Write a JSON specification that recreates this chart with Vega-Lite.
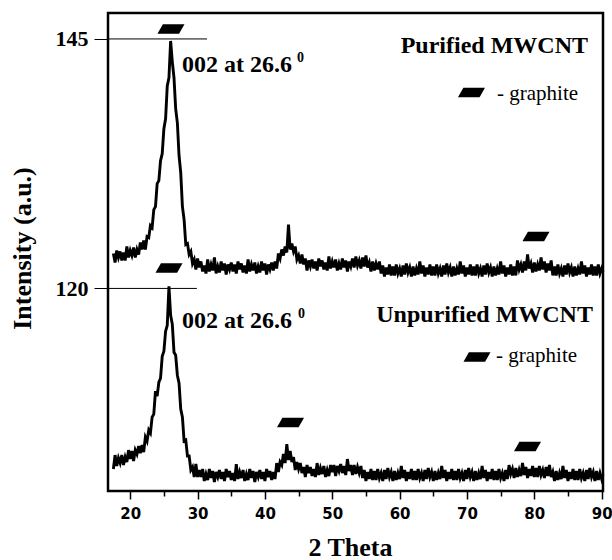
{
"$schema": "https://vega.github.io/schema/vega-lite/v6.json",
"width": 495, "height": 478,
"autosize": {"type": "none"},
"padding": {"left": 108, "top": 13, "right": 9, "bottom": 69},
"background": "white",
"config": {"view": {"stroke": "black", "strokeWidth": 2.5}, "axis": {"grid": false}},
"datasets": {
"xrd": [
{"t":17.5,"p":123.5,"u":101.9},{"t":17.75,"p":122.6,"u":103.3},{"t":18,"p":123.8,"u":102.2},{"t":18.25,"p":123.1,"u":103.0},{"t":18.5,"p":123.7,"u":102.5},{"t":18.75,"p":122.8,"u":103.3},{"t":19,"p":123.6,"u":102.3},{"t":19.25,"p":122.8,"u":103.1},{"t":19.5,"p":124.2,"u":102.6},{"t":19.75,"p":123.1,"u":103.8},
{"t":20,"p":123.8,"u":102.9},{"t":20.25,"p":123.3,"u":103.7},{"t":20.5,"p":124.1,"u":102.7},{"t":20.75,"p":123.1,"u":103.8},{"t":21,"p":123.9,"u":103.4},{"t":21.25,"p":123.4,"u":104.2},{"t":21.5,"p":124.6,"u":103.5},{"t":21.75,"p":123.9,"u":104.3},{"t":22,"p":124.8,"u":103.6},{"t":22.25,"p":123.9,"u":105.1},
{"t":22.5,"p":125.2,"u":104.7},{"t":22.75,"p":125.1,"u":105.8},{"t":23,"p":126.3,"u":105.5},{"t":23.25,"p":126.1,"u":107.1},{"t":23.5,"p":127.9,"u":107.4},{"t":23.75,"p":128.2,"u":109.7},{"t":24,"p":130.5,"u":109.2},{"t":24.25,"p":130.8,"u":110.6},{"t":24.5,"p":132.8,"u":111.0},{"t":24.75,"p":133.5,"u":113.2},
{"t":25,"p":136.0,"u":113.7},{"t":25.25,"p":137.0,"u":115.7},{"t":25.5,"p":140.3,"u":116.3},{"t":25.75,"p":141.1,"u":120.2},{"t":26,"p":144.8,"u":117.3},{"t":26.25,"p":142.7,"u":116.4},{"t":26.5,"p":141.1,"u":113.6},{"t":26.75,"p":138.0,"u":113.3},{"t":27,"p":136.6,"u":111.3},{"t":27.25,"p":133.3,"u":110.5},
{"t":27.5,"p":131.6,"u":107.9},{"t":27.75,"p":128.2,"u":107.1},{"t":28,"p":126.9,"u":104.7},{"t":28.25,"p":124.4,"u":104.8},{"t":28.5,"p":124.5,"u":103.2},{"t":28.75,"p":123.4,"u":103.2},{"t":29,"p":123.7,"u":101.8},{"t":29.25,"p":122.5,"u":102.1},{"t":29.5,"p":122.9,"u":101.1},{"t":29.75,"p":121.9,"u":102.4},
{"t":30,"p":123.0,"u":101.1},{"t":30.25,"p":122.1,"u":101.8},{"t":30.5,"p":122.7,"u":101.1},{"t":30.75,"p":121.7,"u":101.9},{"t":31,"p":122.3,"u":100.7},{"t":31.25,"p":121.5,"u":101.4},{"t":31.5,"p":122.9,"u":100.8},{"t":31.75,"p":121.7,"u":101.9},{"t":32,"p":122.4,"u":101.0},{"t":32.25,"p":121.8,"u":101.7},
{"t":32.5,"p":123.1,"u":100.6},{"t":32.75,"p":121.5,"u":101.6},{"t":33,"p":122.2,"u":101.1},{"t":33.25,"p":121.6,"u":101.8},{"t":33.5,"p":122.7,"u":100.9},{"t":33.75,"p":121.8,"u":101.6},{"t":34,"p":122.5,"u":100.7},{"t":34.25,"p":121.4,"u":101.9},{"t":34.5,"p":122.4,"u":101.1},{"t":34.75,"p":121.9,"u":101.7},
{"t":35,"p":122.6,"u":100.8},{"t":35.25,"p":121.7,"u":101.5},{"t":35.5,"p":122.4,"u":100.7},{"t":35.75,"p":121.5,"u":102.4},{"t":36,"p":122.7,"u":100.9},{"t":36.25,"p":121.9,"u":101.6},{"t":36.5,"p":122.5,"u":101.0},{"t":36.75,"p":121.6,"u":101.8},{"t":37,"p":122.3,"u":100.7},{"t":37.25,"p":121.5,"u":101.4},
{"t":37.5,"p":122.9,"u":100.8},{"t":37.75,"p":121.7,"u":101.9},{"t":38,"p":122.4,"u":101.0},{"t":38.25,"p":121.8,"u":101.7},{"t":38.5,"p":122.6,"u":100.6},{"t":38.75,"p":121.5,"u":101.6},{"t":39,"p":122.2,"u":101.1},{"t":39.25,"p":121.6,"u":101.8},{"t":39.5,"p":122.7,"u":100.9},{"t":39.75,"p":121.8,"u":101.6},
{"t":40,"p":122.5,"u":100.7},{"t":40.25,"p":121.4,"u":101.9},{"t":40.5,"p":122.4,"u":101.1},{"t":40.75,"p":121.9,"u":101.7},{"t":41,"p":122.6,"u":100.8},{"t":41.25,"p":121.8,"u":101.6},{"t":41.5,"p":122.7,"u":100.9},{"t":41.75,"p":122.0,"u":102.5},{"t":42,"p":123.5,"u":101.6},{"t":42.25,"p":123.0,"u":102.6},
{"t":42.5,"p":123.9,"u":102.3},{"t":42.75,"p":123.3,"u":103.4},{"t":43,"p":124.2,"u":102.5},{"t":43.25,"p":123.6,"u":104.4},{"t":43.5,"p":126.4,"u":102.8},{"t":43.75,"p":123.9,"u":103.7},{"t":44,"p":124.5,"u":102.6},{"t":44.25,"p":123.7,"u":103.1},{"t":44.5,"p":124.2,"u":101.8},{"t":44.75,"p":122.9,"u":102.6},
{"t":45,"p":123.3,"u":101.9},{"t":45.25,"p":122.5,"u":102.5},{"t":45.5,"p":123.4,"u":101.5},{"t":45.75,"p":122.4,"u":102.1},{"t":46,"p":123.0,"u":101.1},{"t":46.25,"p":121.8,"u":102.3},{"t":46.5,"p":122.8,"u":101.5},{"t":46.75,"p":122.2,"u":102.1},{"t":47,"p":122.9,"u":101.2},{"t":47.25,"p":122.0,"u":101.9},
{"t":47.5,"p":122.7,"u":101.1},{"t":47.75,"p":121.8,"u":102.5},{"t":48,"p":123.0,"u":101.3},{"t":48.25,"p":122.2,"u":102.0},{"t":48.5,"p":122.8,"u":101.4},{"t":48.75,"p":121.9,"u":102.2},{"t":49,"p":122.6,"u":101.1},{"t":49.25,"p":121.8,"u":101.8},{"t":49.5,"p":123.2,"u":101.2},{"t":49.75,"p":122.0,"u":102.3},
{"t":50,"p":122.7,"u":101.6},{"t":50.25,"p":122.1,"u":102.3},{"t":50.5,"p":122.9,"u":101.2},{"t":50.75,"p":121.8,"u":102.2},{"t":51,"p":122.5,"u":101.7},{"t":51.25,"p":121.9,"u":102.4},{"t":51.5,"p":123.0,"u":101.5},{"t":51.75,"p":122.1,"u":102.2},{"t":52,"p":122.8,"u":101.3},{"t":52.25,"p":121.7,"u":102.9},
{"t":52.5,"p":122.7,"u":101.7},{"t":52.75,"p":122.2,"u":102.3},{"t":53,"p":123.0,"u":101.3},{"t":53.25,"p":122.1,"u":102.3},{"t":53.5,"p":123.2,"u":101.4},{"t":53.75,"p":122.3,"u":102.1},{"t":54,"p":122.8,"u":101.5},{"t":54.25,"p":122.0,"u":102.2},{"t":54.5,"p":123.1,"u":101.0},{"t":54.75,"p":122.2,"u":101.8},
{"t":55,"p":123.3,"u":100.7},{"t":55.25,"p":122.1,"u":101.6},{"t":55.5,"p":122.6,"u":100.9},{"t":55.75,"p":121.7,"u":101.9},{"t":56,"p":122.7,"u":100.8},{"t":56.25,"p":121.8,"u":101.7},{"t":56.5,"p":122.5,"u":100.8},{"t":56.75,"p":121.9,"u":101.9},{"t":57,"p":122.7,"u":101.0},{"t":57.25,"p":121.5,"u":101.5},
{"t":57.5,"p":122.3,"u":100.7},{"t":57.75,"p":121.2,"u":101.8},{"t":58,"p":122.1,"u":100.9},{"t":58.25,"p":121.4,"u":102.0},{"t":58.5,"p":122.4,"u":101.1},{"t":58.75,"p":121.3,"u":101.6},{"t":59,"p":122.2,"u":100.7},{"t":59.25,"p":121.3,"u":101.7},{"t":59.5,"p":122.4,"u":100.8},{"t":59.75,"p":121.5,"u":101.5},
{"t":60,"p":122.0,"u":100.9},{"t":60.25,"p":121.2,"u":102.2},{"t":60.5,"p":122.3,"u":101.0},{"t":60.75,"p":121.4,"u":101.8},{"t":61,"p":122.5,"u":100.7},{"t":61.25,"p":121.6,"u":101.6},{"t":61.5,"p":122.1,"u":100.9},{"t":61.75,"p":121.2,"u":101.9},{"t":62,"p":122.2,"u":100.8},{"t":62.25,"p":121.3,"u":101.7},
{"t":62.5,"p":122.0,"u":100.8},{"t":62.75,"p":121.4,"u":101.9},{"t":63,"p":122.7,"u":101.0},{"t":63.25,"p":121.5,"u":101.5},{"t":63.5,"p":122.3,"u":100.7},{"t":63.75,"p":121.2,"u":101.8},{"t":64,"p":122.1,"u":100.9},{"t":64.25,"p":121.4,"u":102.0},{"t":64.5,"p":122.4,"u":101.1},{"t":64.75,"p":121.3,"u":101.6},
{"t":65,"p":122.2,"u":100.7},{"t":65.25,"p":121.3,"u":101.7},{"t":65.5,"p":122.4,"u":100.8},{"t":65.75,"p":121.5,"u":101.5},{"t":66,"p":122.0,"u":100.9},{"t":66.25,"p":121.2,"u":102.2},{"t":66.5,"p":122.3,"u":101.0},{"t":66.75,"p":121.4,"u":101.8},{"t":67,"p":122.5,"u":100.7},{"t":67.25,"p":121.6,"u":101.6},
{"t":67.5,"p":122.1,"u":100.9},{"t":67.75,"p":121.2,"u":101.9},{"t":68,"p":122.2,"u":100.8},{"t":68.25,"p":121.3,"u":101.7},{"t":68.5,"p":122.0,"u":100.8},{"t":68.75,"p":121.4,"u":101.9},{"t":69,"p":122.7,"u":101.0},{"t":69.25,"p":121.5,"u":101.5},{"t":69.5,"p":122.3,"u":100.7},{"t":69.75,"p":121.2,"u":101.8},
{"t":70,"p":122.1,"u":100.9},{"t":70.25,"p":121.4,"u":102.0},{"t":70.5,"p":122.4,"u":101.1},{"t":70.75,"p":121.3,"u":101.6},{"t":71,"p":122.2,"u":100.7},{"t":71.25,"p":121.3,"u":101.7},{"t":71.5,"p":122.4,"u":100.8},{"t":71.75,"p":121.5,"u":101.5},{"t":72,"p":122.0,"u":100.9},{"t":72.25,"p":121.2,"u":102.2},
{"t":72.5,"p":122.3,"u":101.0},{"t":72.75,"p":121.4,"u":101.8},{"t":73,"p":122.5,"u":100.7},{"t":73.25,"p":121.6,"u":101.6},{"t":73.5,"p":122.1,"u":100.9},{"t":73.75,"p":121.2,"u":101.9},{"t":74,"p":122.2,"u":100.8},{"t":74.25,"p":121.3,"u":101.7},{"t":74.5,"p":122.0,"u":100.8},{"t":74.75,"p":121.4,"u":101.9},
{"t":75,"p":122.7,"u":101.0},{"t":75.25,"p":121.5,"u":101.5},{"t":75.5,"p":122.3,"u":100.7},{"t":75.75,"p":121.2,"u":101.8},{"t":76,"p":122.1,"u":100.9},{"t":76.25,"p":121.4,"u":102.3},{"t":76.5,"p":122.4,"u":101.4},{"t":76.75,"p":121.3,"u":101.9},{"t":77,"p":122.2,"u":101.0},{"t":77.25,"p":121.3,"u":102.0},
{"t":77.5,"p":122.8,"u":101.1},{"t":77.75,"p":121.9,"u":101.8},{"t":78,"p":122.4,"u":101.2},{"t":78.25,"p":121.6,"u":102.5},{"t":78.5,"p":122.7,"u":101.3},{"t":78.75,"p":121.8,"u":102.1},{"t":79,"p":123.4,"u":101.0},{"t":79.25,"p":122.0,"u":101.9},{"t":79.5,"p":122.5,"u":101.2},{"t":79.75,"p":121.6,"u":102.2},
{"t":80,"p":122.6,"u":101.1},{"t":80.25,"p":121.7,"u":102.0},{"t":80.5,"p":122.4,"u":101.1},{"t":80.75,"p":121.8,"u":102.2},{"t":81,"p":123.1,"u":101.3},{"t":81.25,"p":121.9,"u":101.8},{"t":81.5,"p":122.7,"u":101.0},{"t":81.75,"p":121.6,"u":102.1},{"t":82,"p":122.5,"u":101.2},{"t":82.25,"p":121.8,"u":102.3},
{"t":82.5,"p":122.8,"u":101.1},{"t":82.75,"p":121.3,"u":101.6},{"t":83,"p":122.2,"u":100.7},{"t":83.25,"p":121.3,"u":101.7},{"t":83.5,"p":122.4,"u":100.8},{"t":83.75,"p":121.5,"u":101.5},{"t":84,"p":122.0,"u":100.9},{"t":84.25,"p":121.2,"u":102.2},{"t":84.5,"p":122.3,"u":101.0},{"t":84.75,"p":121.4,"u":101.8},
{"t":85,"p":122.5,"u":100.7},{"t":85.25,"p":121.6,"u":101.6},{"t":85.5,"p":122.1,"u":100.9},{"t":85.75,"p":121.2,"u":101.9},{"t":86,"p":122.2,"u":100.8},{"t":86.25,"p":121.3,"u":101.7},{"t":86.5,"p":122.0,"u":100.8},{"t":86.75,"p":121.4,"u":101.9},{"t":87,"p":122.7,"u":101.0},{"t":87.25,"p":121.5,"u":101.5},
{"t":87.5,"p":122.3,"u":100.7},{"t":87.75,"p":121.2,"u":101.8},{"t":88,"p":122.1,"u":100.9},{"t":88.25,"p":121.4,"u":102.0},{"t":88.5,"p":122.4,"u":101.1},{"t":88.75,"p":121.3,"u":101.6},{"t":89,"p":122.2,"u":100.7},{"t":89.25,"p":121.3,"u":101.7},{"t":89.5,"p":122.4,"u":100.8},{"t":89.75,"p":121.5,"u":101.5},
{"t":90,"p":122.0,"u":100.9},{"t":90.2,"p":121.6,"u":101.4}
],
"refs": [{"x": 16.7, "x2": 31.4, "y": 145}, {"x": 16.7, "x2": 29.9, "y": 120}],
"marks": [{"x": 26.05, "y": 146.0}, {"x": 70.67, "y": 139.63}, {"x": 80.25, "y": 125.2}, {"x": 25.76, "y": 122.05}, {"x": 43.8, "y": 106.56}, {"x": 71.49, "y": 113.13}, {"x": 78.99, "y": 104.16}],
"titles": [{"x": 87.97, "y": 143.59, "label": "Purified MWCNT"}, {"x": 88.71, "y": 116.64, "label": "Unpurified MWCNT"}],
"peaks": [{"x": 27.69, "y": 141.7, "label": "002 at 26.6"}, {"x": 27.69, "y": 116.0, "label": "002 at 26.6"}],
"sups": [{"x": 44.76, "y": 142.7, "label": "0"}, {"x": 44.9, "y": 117.04, "label": "0"}],
"legend": [{"x": 74.46, "y": 138.88, "label": "- graphite"}, {"x": 74.31, "y": 112.66, "label": "- graphite"}]
},
"encoding": {
  "x": {"type": "quantitative", "title": "2 Theta", "scale": {"domain": [16.7, 90.2], "nice": false, "zero": false},
   "axis": {"values": [20,25,30,35,40,45,50,55,60,65,70,75,80,85,90],
    "labelExpr": "datum.value % 10 === 0 ? datum.label : ''",
    "tickSize": {"condition": {"test": "datum.value % 10 === 0", "value": 8}, "value": 5},
    "tickColor": "black", "tickWidth": 1.5, "domain": false,
    "labelFont": "DejaVu Sans", "labelFontWeight": "bold", "labelFontSize": 15, "labelColor": "black", "labelPadding": 7,
    "labelFlush": false, "labelOverlap": false,
    "titleFont": "Liberation Serif", "titleFontSize": 26, "titleFontWeight": "bold", "titleColor": "black",
    "titleBaseline": "alphabetic", "titleY": 64, "titleX": 242}},
  "y": {"type": "quantitative", "title": "Intensity (a.u.)", "scale": {"domain": [99.7, 147.6], "nice": false, "zero": false},
   "axis": {"values": [120, 145], "tickSize": 14, "tickColor": "black", "tickWidth": 1, "domain": false,
    "labelFont": "Liberation Serif", "labelFontWeight": "bold", "labelFontSize": 22, "labelColor": "black", "labelPadding": 6,
    "titleFont": "Liberation Serif", "titleFontSize": 26, "titleFontWeight": "bold", "titleColor": "black",
    "titleAngle": 270, "titleBaseline": "middle", "titleX": -86, "titleY": 235}}
},
"layer": [
{"data": {"name": "xrd"}, "mark": {"type": "line", "color": "black", "strokeWidth": 2.9},
 "encoding": {"x": {"field": "t"}, "y": {"field": "p"}}},
{"data": {"name": "xrd"}, "mark": {"type": "line", "color": "black", "strokeWidth": 2.9},
 "encoding": {"x": {"field": "t"}, "y": {"field": "u"}}},
{"data": {"name": "refs"}, "mark": {"type": "rule", "color": "black", "strokeWidth": 1},
 "encoding": {"x": {"field": "x"}, "x2": {"field": "x2"}, "y": {"field": "y"}}},
{"data": {"name": "marks"}, "mark": {"type": "point", "shape": "M -0.6 -0.35 L 1 -0.35 L 0.6 0.35 L -1 0.35 Z", "filled": true, "color": "black", "opacity": 1, "size": 730, "strokeWidth": 0},
 "encoding": {"x": {"field": "x"}, "y": {"field": "y"}}},
{"data": {"name": "titles"}, "mark": {"type": "text", "font": "Liberation Serif", "fontWeight": "bold", "fontSize": 24, "align": "right", "baseline": "alphabetic", "color": "black"},
 "encoding": {"x": {"field": "x"}, "y": {"field": "y"}, "text": {"field": "label"}}},
{"data": {"name": "peaks"}, "mark": {"type": "text", "font": "Liberation Serif", "fontWeight": "bold", "fontSize": 24, "align": "left", "baseline": "alphabetic", "color": "black"},
 "encoding": {"x": {"field": "x"}, "y": {"field": "y"}, "text": {"field": "label"}}},
{"data": {"name": "sups"}, "mark": {"type": "text", "font": "Liberation Serif", "fontWeight": "bold", "fontSize": 14, "align": "left", "baseline": "alphabetic", "color": "black"},
 "encoding": {"x": {"field": "x"}, "y": {"field": "y"}, "text": {"field": "label"}}},
{"data": {"name": "legend"}, "mark": {"type": "text", "font": "Liberation Serif", "fontSize": 21, "align": "left", "baseline": "alphabetic", "color": "black"},
 "encoding": {"x": {"field": "x"}, "y": {"field": "y"}, "text": {"field": "label"}}}
]
}
